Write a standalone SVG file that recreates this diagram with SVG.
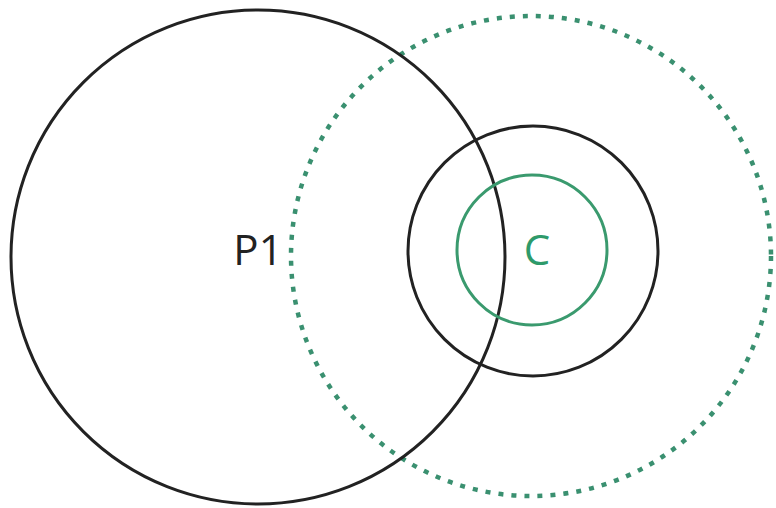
<svg xmlns="http://www.w3.org/2000/svg" width="776" height="508" viewBox="0 0 776 508">
<style>
.blk{fill:none;stroke:#222;stroke-width:3}
.grn{fill:none;stroke:#3a9a6e;stroke-width:3}
.dot{fill:none;stroke:#3a9070;stroke-width:4.5;stroke-dasharray:5 8.05}
text{font-family:"Open Sans","Noto Sans",sans-serif;font-size:42px;text-anchor:middle}
</style>
<rect width="776" height="508" fill="#fff"/>
<g id="C-outer"><circle class="dot" cx="531" cy="256" r="240"/></g>
<g id="P1"><circle class="blk" cx="258" cy="257" r="247"/><text x="258" y="265" fill="#222">P1</text></g>
<g id="C-mid"><circle class="blk" cx="533" cy="251" r="125"/></g>
<g id="C"><circle class="grn" cx="532" cy="250" r="75"/><text x="537" y="265" fill="#2e9a6a">C</text></g>
<g id="connectors"></g>
</svg>
